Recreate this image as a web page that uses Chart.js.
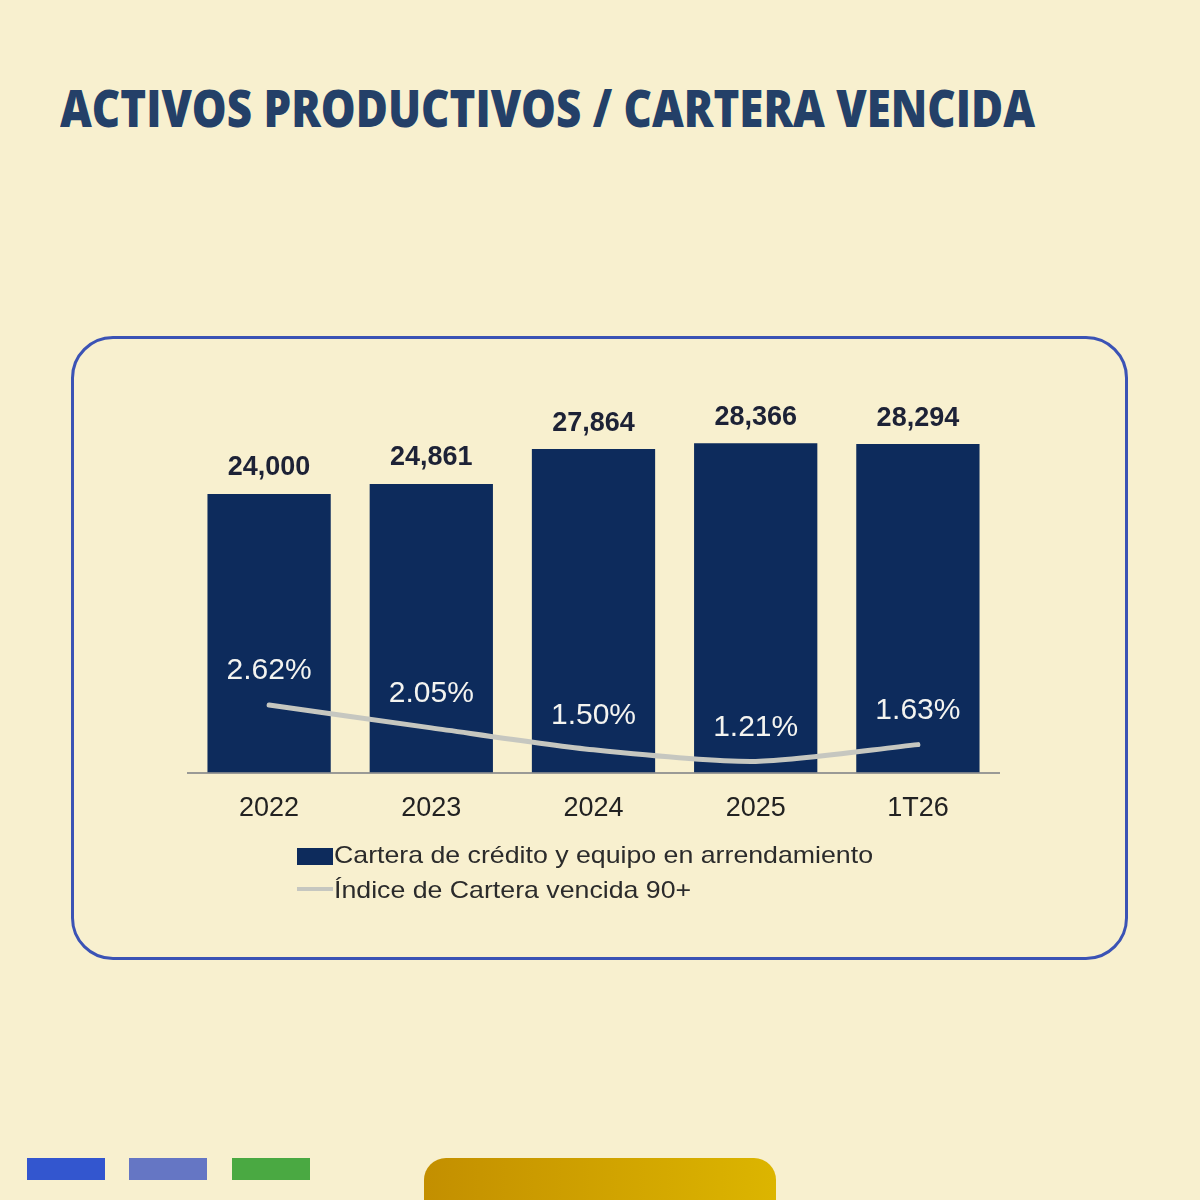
<!DOCTYPE html>
<html>
<head>
<meta charset="utf-8">
<script src="https://cdn.jsdelivr.net/npm/chart.js@4.4.1/dist/chart.umd.min.js"></script>
<style>
  html, body { margin:0; padding:0; }
  body { width:1200px; height:1200px; background:#f8f0cf; position:relative; overflow:hidden; font-family:"Liberation Sans", Arial, sans-serif; }
  #title { position:absolute; left:60px; top:76px; font-family:"Open Sans", sans-serif; font-weight:800; font-size:51px; color:#244068; white-space:nowrap; transform-origin:0 0; line-height:62px; }
  #frame { position:absolute; left:71px; top:336px; width:1051px; height:618px; border:3.5px solid #3b53b5; border-radius:42px; }
  #chartWrap { position:absolute; left:0; top:0; width:1200px; height:1200px; }
  .legend { position:absolute; left:334px; font-size:24px; color:#2b2b2b; white-space:nowrap; transform-origin:0 50%; }
  .sw { position:absolute; left:297px; }
  .deco { position:absolute; top:1158px; height:22px; width:78px; }
  #gold { position:absolute; left:424px; top:1158px; width:352px; height:70px; border-radius:22px; background:linear-gradient(90deg,#c38f00,#dcb500); }
</style>
</head>
<body>
<div id="title">ACTIVOS PRODUCTIVOS / CARTERA VENCIDA</div>
<div id="frame"></div>
<div id="chartWrap"><canvas id="c" width="1200" height="1200"></canvas></div>
<div id="leg"></div>
<div class="deco" style="left:27px;background:#3356cf;"></div>
<div class="deco" style="left:129px;background:#6576c4;"></div>
<div class="deco" style="left:232px;background:#4aa942;"></div>
<div id="gold"></div>
<script>
const categories = ["2022", "2023", "2024", "2025", "1T26"];
const carteraValues = [24000, 24861, 27864, 28366, 28294];
const indiceValues = [2.62, 2.05, 1.50, 1.21, 1.63];
const carteraLabels = ["24,000", "24,861", "27,864", "28,366", "28,294"];
const indiceLabels = ["2.62%", "2.05%", "1.50%", "1.21%", "1.63%"];
const seriesNames = ["Cartera de crédito y equipo en arrendamiento", "Índice de Cartera vencida 90+"];

const BAR_COLOR = "#0d2b5c";
const LINE_COLOR = "#c6c7c0";

// scale title to reference width
const t = document.getElementById('title');
const tw = t.getBoundingClientRect().width;
t.style.transform = 'scaleX(' + (975 / tw) + ')';

// legend
const leg = document.getElementById('leg');
leg.innerHTML =
  '<div class="sw" style="top:848px;width:36px;height:17px;background:' + BAR_COLOR + '"></div>' +
  '<div class="legend" id="l1" style="top:841px;line-height:28px">' + seriesNames[0] + '</div>' +
  '<div class="sw" style="top:887px;width:36px;height:4px;background:' + LINE_COLOR + '"></div>' +
  '<div class="legend" id="l2" style="top:876px;line-height:28px">' + seriesNames[1] + '</div>';
const l1 = document.getElementById('l1');
const sx = 539 / l1.getBoundingClientRect().width;
l1.style.transform = 'scaleX(' + sx + ')';
document.getElementById('l2').style.transform = 'scaleX(' + sx + ')';

const labelPlugin = {
  id: 'valueLabels',
  afterDatasetsDraw(chart) {
    const ctx = chart.ctx;
    ctx.save();
    ctx.textAlign = 'center';
    ctx.textBaseline = 'middle';
    const barMeta = chart.getDatasetMeta(0);
    ctx.font = 'bold 27px "Liberation Sans", Arial, sans-serif';
    ctx.fillStyle = '#1d2236';
    barMeta.data.forEach((el, i) => {
      ctx.fillText(carteraLabels[i], el.x, el.y - 26);
    });
    const lineMeta = chart.getDatasetMeta(1);
    ctx.font = '30px "Liberation Sans", Arial, sans-serif';
    ctx.fillStyle = '#f4f4f0';
    lineMeta.data.forEach((el, i) => {
      ctx.fillText(indiceLabels[i], el.x, el.y - 34);
    });
    ctx.restore();
  }
};

new Chart(document.getElementById('c'), {
  data: {
    labels: categories,
    datasets: [
      {
        type: 'bar',
        label: seriesNames[0],
        data: carteraValues,
        backgroundColor: BAR_COLOR,
        barPercentage: 0.76,
        categoryPercentage: 1.0,
        yAxisID: 'y',
        order: 2
      },
      {
        type: 'line',
        label: seriesNames[1],
        data: indiceValues,
        borderColor: LINE_COLOR,
        borderWidth: 5,
        pointRadius: 0,
        tension: 0.25,
        borderCapStyle: 'round',
        yAxisID: 'y2',
        order: 1
      }
    ]
  },
  options: {
    responsive: false,
    animation: false,
    devicePixelRatio: 1,
    layout: { padding: { left: 188, right: 201, top: 300, bottom: 355 } },
    plugins: { legend: { display: false }, tooltip: { enabled: false } },
    scales: {
      x: {
        grid: { display: false, drawTicks: false },
        border: { display: true, color: '#9a9a96', width: 2 },
        ticks: { color: '#222222', font: { family: '"Liberation Sans", Arial, sans-serif', size: 27 }, padding: 20 }
      },
      y: { display: false, min: 0, max: 40700 },
      y2: { display: false, min: 0.93, max: 12.76 }
    }
  },
  plugins: [labelPlugin]
});
</script>
</body>
</html>
